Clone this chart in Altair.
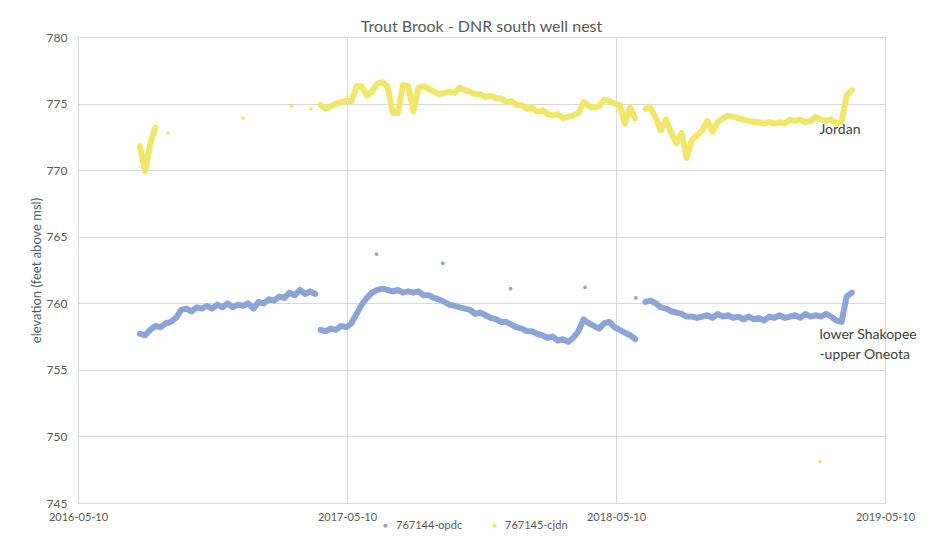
import altair as alt
import pandas as pd

# ---------------- data ----------------
dates = [
    "2016-08-02", "2016-08-09", "2016-08-16", "2016-08-23", "2016-08-30", "2016-09-06", "2016-09-13",
    "2016-09-20", "2016-09-27", "2016-10-04", "2016-10-11", "2016-10-18", "2016-10-25", "2016-11-01",
    "2016-11-08", "2016-11-15", "2016-11-22", "2016-11-29", "2016-12-06", "2016-12-13", "2016-12-20",
    "2016-12-27",
    "2017-01-03", "2017-01-10", "2017-01-17", "2017-01-24", "2017-01-31", "2017-02-07", "2017-02-14",
    "2017-02-21", "2017-02-28", "2017-03-07", "2017-03-14", "2017-03-21", "2017-03-28", "2017-04-04",
    "2017-04-11", "2017-04-18", "2017-04-25", "2017-05-02", "2017-05-09", "2017-05-16", "2017-05-23",
    "2017-05-30", "2017-06-06", "2017-06-13", "2017-06-20", "2017-06-27", "2017-07-04", "2017-07-11",
    "2017-07-18", "2017-07-25", "2017-08-01", "2017-08-08", "2017-08-15", "2017-08-22", "2017-08-29",
    "2017-09-05", "2017-09-12", "2017-09-19", "2017-09-26", "2017-10-03", "2017-10-10", "2017-10-17",
    "2017-10-24", "2017-10-31", "2017-11-07", "2017-11-14", "2017-11-21", "2017-11-28", "2017-12-05",
    "2017-12-12", "2017-12-19", "2017-12-26",
    "2018-01-02", "2018-01-09", "2018-01-16", "2018-01-23", "2018-01-30", "2018-02-06", "2018-02-13",
    "2018-02-20", "2018-02-27", "2018-03-06", "2018-03-13", "2018-03-20", "2018-03-27", "2018-04-03",
    "2018-04-10", "2018-04-17", "2018-04-24", "2018-05-01", "2018-05-08", "2018-05-15", "2018-05-22",
    "2018-05-29", "2018-06-05", "2018-06-12", "2018-06-19", "2018-06-26", "2018-07-03", "2018-07-10",
    "2018-07-17", "2018-07-24", "2018-07-31", "2018-08-07", "2018-08-14", "2018-08-21", "2018-08-28",
    "2018-09-04", "2018-09-11", "2018-09-18", "2018-09-25", "2018-10-02", "2018-10-09", "2018-10-16",
    "2018-10-23", "2018-10-30", "2018-11-06", "2018-11-13", "2018-11-20", "2018-11-27", "2018-12-04",
    "2018-12-11", "2018-12-18", "2018-12-25",
    "2019-01-01", "2019-01-08", "2019-01-15", "2019-01-22", "2019-01-29", "2019-02-05", "2019-02-12",
    "2019-02-19", "2019-02-26", "2019-03-05", "2019-03-12", "2019-03-19", "2019-03-26",
]

# 767144-opdc (lower Shakopee - upper Oneota)
opdc = [
    757.7, 757.6, 758.0, 758.3, 758.2, 758.5, 758.6, 758.9, 759.5, 759.6,
    759.4, 759.7, 759.6, 759.8, 759.6, 759.9, 759.7, 760.0, 759.7, 759.9,
    759.8, 760.0, 759.6, 760.1, 760.0, 760.3, 760.2, 760.5, 760.4, 760.8,
    760.6, 761.0, 760.7, 760.9, 760.7, 758.0, 757.9, 758.1, 758.0, 758.3,
    758.2, 758.5, 759.2, 759.9, 760.4, 760.8, 761.0, 761.1, 761.0, 760.9,
    761.0, 760.8, 760.9, 760.8, 760.9, 760.6, 760.6, 760.4, 760.3, 760.1,
    759.9, 759.8, 759.7, 759.6, 759.5, 759.2, 759.3, 759.1, 758.9, 758.8,
    758.6, 758.6, 758.4, 758.2, 758.1, 757.9, 757.9, 757.7, 757.6, 757.4,
    757.5, 757.2, 757.3, 757.1, 757.4, 757.9, 758.8, 758.5, 758.3, 758.1,
    758.5, 758.6, 758.2, 758.0, 757.8, 757.6, 757.3, None, 760.1, 760.2,
    760.0, 759.7, 759.6, 759.4, 759.3, 759.2, 759.0, 759.0, 758.9, 759.0,
    759.1, 758.9, 759.2, 759.0, 759.1, 758.9, 759.0, 758.8, 759.0, 758.8,
    758.9, 758.7, 759.0, 758.9, 759.1, 758.9, 759.0, 759.1, 758.9, 759.2,
    759.0, 759.1, 759.0, 759.2, 759.0, 758.7, 758.6, 760.5, 760.8,
]
opdc_breaks = ["2017-04-04"]

# 767145-cjdn (Jordan)
cjdn = [771.8, 769.9, 772.0, 773.2] + [None] * 31 + [
    774.9, 774.6, 774.8, 775.0, 775.1,
    775.2, 775.2, 776.3, 776.3, 775.6, 775.9, 776.5, 776.6, 776.3, 774.3,
    774.3, 776.4, 776.3, 774.4, 776.2, 776.3, 776.1, 775.9, 775.7, 775.8,
    775.9, 775.8, 776.2, 776.0, 775.9, 775.7, 775.7, 775.5, 775.6, 775.4,
    775.4, 775.1, 775.2, 774.9, 774.9, 774.6, 774.7, 774.4, 774.5, 774.2,
    774.1, 774.2, 773.9, 774.0, 774.1, 774.3, 775.1, 774.8, 774.7, 774.8,
    775.3, 775.2, 775.0, 774.9, 773.5, 774.7, 773.9, None, 774.6, 774.7,
    773.9, 773.0, 773.8, 772.8, 772.0, 772.8, 770.9, 772.3, 772.6, 773.0,
    773.7, 772.9, 773.6, 773.9, 774.1, 774.0, 773.9, 773.8, 773.7, 773.6,
    773.6, 773.5, 773.6, 773.5, 773.6, 773.5, 773.8, 773.7, 773.8, 773.6,
    773.7, 774.0, 773.8, 773.7, 773.8, 773.5, 773.6, 775.6, 776.0,
]
cjdn_breaks = []

# isolated readings
opdc_pt_dates = ["2017-06-19", "2017-09-17", "2017-12-18", "2018-03-29", "2018-06-06"]
opdc_pt_values = [763.7, 763.0, 761.1, 761.2, 760.4]
cjdn_pt_dates = ["2016-09-09", "2016-12-20", "2017-02-24", "2017-03-22", "2019-02-11"]
cjdn_pt_values = [772.8, 773.9, 774.8, 774.6, 748.1]

series_names = ["767144-opdc", "767145-cjdn"]
series_colors = ["#8DA4D7", "#F0E76A"]

label_texts = ["Jordan", "lower Shakopee", "-upper Oneota"]
label_dates = ["2019-02-10", "2019-02-10", "2019-02-10"]
label_values = [773.0, 757.6, 756.1]

x_ticks = ["2016-05-10", "2017-05-10", "2018-05-10", "2019-05-10"]
y_ticks = [745, 750, 755, 760, 765, 770, 775, 780]

# ---------------- build tables ----------------
rows = []
for name, vals, breaks in [(series_names[0], opdc, opdc_breaks), (series_names[1], cjdn, cjdn_breaks)]:
    seg = 0
    prev_none = True
    for d, v in zip(dates, vals):
        if v is None:
            prev_none = True
            continue
        if prev_none or d in breaks:
            seg += 1
        prev_none = False
        rows.append({"date": d, "value": v, "series": name, "seg": f"{name}-{seg}"})
lines_df = pd.DataFrame(rows)

pts_df = pd.DataFrame(
    [{"date": d, "value": v, "series": series_names[0]} for d, v in zip(opdc_pt_dates, opdc_pt_values)]
    + [{"date": d, "value": v, "series": series_names[1]} for d, v in zip(cjdn_pt_dates, cjdn_pt_values)]
)
labels_df = pd.DataFrame({"date": label_dates, "value": label_values, "text": label_texts})


def dt(s):
    y, m, d = (int(p) for p in s.split("-"))
    return alt.DateTime(year=y, month=m, date=d, utc=True)


FONT = "Lato"
GRAY = "#595959"
GRID = "#D9D9D9"

x_enc = alt.X(
    "date:T",
    scale=alt.Scale(type="utc", domain=[dt(x_ticks[0]), dt(x_ticks[-1])]),
    axis=alt.Axis(
        values=[dt(t) for t in x_ticks], labelExpr="utcFormat(datum.value, '%Y-%m-%d')", title=None,
        grid=True, gridColor=GRID, ticks=False, domain=False, labelColor=GRAY,
        labelFont=FONT, labelFontSize=11, labelPadding=8, labelFlush=False,
    ),
)
y_enc = alt.Y(
    "value:Q",
    scale=alt.Scale(domain=[745, 780], nice=False, zero=False),
    axis=alt.Axis(
        values=y_ticks, title="elevation (feet above msl)", titleFont=FONT, titleFontSize=13,
        titleFontWeight="normal", titleColor=GRAY, titlePadding=3, grid=True, gridColor=GRID,
        ticks=False, domain=False, labelColor=GRAY, labelFont=FONT, labelFontSize=12, labelPadding=11,
    ),
)
color_scale = alt.Scale(domain=series_names, range=series_colors)

lines = alt.Chart(lines_df).mark_line(strokeWidth=6, strokeJoin="round", strokeCap="round").encode(
    x=x_enc, y=y_enc,
    color=alt.Color("series:N", scale=color_scale, legend=None),
    detail="seg:N",
)

points = alt.Chart(pts_df).mark_circle(size=14, opacity=1).encode(
    x="date:T", y="value:Q",
    color=alt.Color(
        "series:N", scale=color_scale,
        legend=alt.Legend(
            title=None, orient="none", legendX=302, legendY=483, direction="horizontal",
            symbolType="circle", symbolSize=18, labelFont=FONT, labelFontSize=11,
            labelColor=GRAY, columnPadding=26, labelOffset=5,
        ),
    ),
)

texts = alt.Chart(labels_df).mark_text(
    align="left", baseline="middle", font=FONT, fontSize=14, color="#404040"
).encode(x="date:T", y="value:Q", text="text:N")

chart = (
    alt.layer(lines, points, texts)
    .resolve_legend(color="independent")
    .properties(
        width=807,
        height=466,
        title=alt.Title(
            "Trout Brook - DNR south well nest", font=FONT, fontSize=16, fontWeight="normal",
            color=GRAY, anchor="middle", offset=-4,
        ),
        autosize=alt.AutoSizeParams(type="none"),
        padding={"left": 70, "top": 29, "right": 57, "bottom": 30},
        background="white",
    )
    .configure_view(stroke=None)
)

chart.save("out.html", embed_options={"renderer": "svg", "actions": False})
